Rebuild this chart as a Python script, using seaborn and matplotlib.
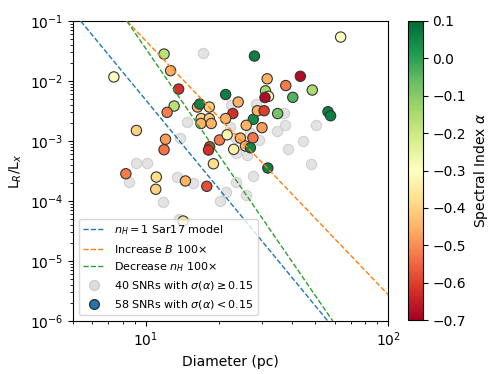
import numpy as np
import pandas as pd
import matplotlib
matplotlib.use('Agg')
import matplotlib.pyplot as plt
import seaborn as sns
from matplotlib.lines import Line2D
from matplotlib.colors import Normalize
from matplotlib.cm import ScalarMappable

# SNRs with well measured spectral index (sigma < 0.15)
diam_good = [11.87, 28.0, 63.5, 7.37, 12.63, 13.63, 21.3, 24.0, 13.06, 12.22,
             16.31, 18.24, 22.8, 27.7, 28.8, 16.89, 18.24, 16.85, 18.58, 21.3,
             9.13, 25.9, 12.04, 20.1, 21.6, 24.5, 27.6, 11.87, 18.3, 18.1,
             23.0, 25.7, 26.95, 18.97, 8.26, 11.03, 14.54, 10.97, 17.81, 14.23,
             31.6, 37.7, 43.3, 31.1, 32.0, 30.95, 40.3, 48.5, 30.7, 34.9,
             56.3, 57.7, 30.1, 31.8, 16.66]
ratio_good = [2.82e-2, 2.61e-2, 5.41e-2, 1.17e-2, 1.49e-2, 7.36e-3, 5.96e-3, 4.47e-3, 3.83e-3, 3.01e-3,
              3.69e-3, 3.69e-3, 2.87e-3, 2.30e-3, 3.20e-3, 2.37e-3, 2.37e-3, 1.96e-3, 1.96e-3, 2.37e-3,
              1.50e-3, 1.83e-3, 1.07e-3, 1.04e-3, 1.27e-3, 1.12e-3, 1.13e-3, 7.16e-4, 8.04e-4, 7.08e-4,
              7.27e-4, 8.25e-4, 7.73e-4, 4.18e-4, 2.85e-4, 2.51e-4, 2.16e-4, 1.57e-4, 1.76e-4, 4.64e-5,
              1.09e-2, 8.41e-3, 1.20e-2, 6.87e-3, 5.56e-3, 5.31e-3, 5.35e-3, 7.08e-3, 3.20e-3, 2.87e-3,
              3.08e-3, 2.64e-3, 1.67e-3, 3.55e-4, 4.14e-3]
alpha_good = [-0.17, 0.06, -0.30, -0.30, -0.45, -0.62, 0.06, -0.45, -0.17, -0.52,
              -0.45, -0.40, -0.62, 0.04, -0.45, -0.40, -0.42, -0.45, -0.45, -0.45,
              -0.40, -0.45, -0.48, -0.52, -0.32, -0.45, -0.53, -0.53, -0.62, -0.62,
              -0.34, -0.45, 0.05, -0.38, -0.52, -0.38, -0.45, -0.40, -0.58, -0.38,
              -0.45, -0.52, -0.68, -0.14, -0.32, -0.68, -0.04, -0.15, -0.60, -0.08,
              0.06, 0.06, -0.48, 0.06, 0.05]

# SNRs with poorly constrained spectral index
diam_poor = [17.22, 14.79, 13.83, 22.3, 28.3, 37.0, 37.3, 34.6, 44.5, 38.5,
             23.5, 26.2, 48.1, 9.09, 10.12, 8.50, 13.37, 15.68, 11.76, 21.4,
             20.1, 23.5, 25.8, 27.7, 13.70, 50.1, 22.4, 26.95, 29.2, 23.4]
ratio_poor = [2.96e-2, 2.07e-3, 1.14e-3, 1.73e-3, 4.22e-3, 2.90e-3, 1.85e-3, 1.49e-3, 1.01e-3, 7.36e-4,
              6.31e-4, 5.96e-4, 4.17e-4, 4.25e-4, 4.38e-4, 2.10e-4, 2.54e-4, 2.0e-4, 9.73e-5, 1.40e-4,
              1.0e-4, 2.07e-4, 1.24e-4, 2.61e-4, 4.95e-5, 1.85e-3, 3.98e-3, 1.34e-3, 1.04e-3, 1.12e-3]

# model tracks
sar17_d = [5.38, 56.2]
sar17_l = [1e-1, 1e-6]
incB_d = [8.34, 100.0]
incB_l = [1e-1, 2.71e-6]
decn_d = [8.34, 58.9]
decn_l = [1e-1, 1e-6]

cbar_ticks = [-0.7, -0.6, -0.5, -0.4, -0.3, -0.2, -0.1, 0.0, 0.1]

df_good = pd.DataFrame({'diam': diam_good, 'ratio': ratio_good, 'alpha': alpha_good})
df_poor = pd.DataFrame({'diam': diam_poor, 'ratio': ratio_poor})

cmap = sns.color_palette('RdYlGn', as_cmap=True)
norm = Normalize(vmin=-0.7, vmax=0.1)

fig = plt.figure(figsize=(4.98, 3.74), dpi=100)
ax = fig.add_axes([0.1466, 0.1417, 0.6335, 0.802])
cax = fig.add_axes([0.819, 0.144, 0.030, 0.800])

sns.scatterplot(data=df_poor, x='diam', y='ratio', color='#dcdcdc', edgecolor='#c8c8c8',
                alpha=0.8, s=55, linewidth=0.8, ax=ax, zorder=1, legend=False)
sns.scatterplot(data=df_good, x='diam', y='ratio', hue='alpha', palette=cmap, hue_norm=norm,
                s=55, edgecolor='#333333', linewidth=0.8, ax=ax, zorder=2, legend=False)

sns.lineplot(x=sar17_d, y=sar17_l, ax=ax, color='tab:blue', linestyle='--', linewidth=1, zorder=3)
sns.lineplot(x=incB_d, y=incB_l, ax=ax, color='tab:orange', linestyle='--', linewidth=1, zorder=3)
sns.lineplot(x=decn_d, y=decn_l, ax=ax, color='tab:green', linestyle='--', linewidth=1, zorder=3)

ax.set_xscale('log')
ax.set_yscale('log')
ax.set_xlim(5, 100)
ax.set_ylim(1e-6, 1e-1)
ax.set_xlabel('Diameter (pc)')
ax.set_ylabel(r'L$_R$/L$_x$')

handles = [
    Line2D([], [], color='tab:blue', linestyle='--', linewidth=1),
    Line2D([], [], color='tab:orange', linestyle='--', linewidth=1),
    Line2D([], [], color='tab:green', linestyle='--', linewidth=1),
    Line2D([], [], marker='o', linestyle='', markersize=7, markerfacecolor='#dedede',
           markeredgecolor='#cccccc'),
    Line2D([], [], marker='o', linestyle='', markersize=7, markerfacecolor='tab:blue',
           markeredgecolor='#333333'),
]
labels = [r'$n_H = 1$ Sar17 model',
          r'Increase $B$ 100$\times$',
          r'Decrease $n_H$ 100$\times$',
          r'40 SNRs with $\sigma(\alpha) \geq 0.15$',
          r'58 SNRs with $\sigma(\alpha) < 0.15$']
ax.legend(handles, labels, loc='lower left', fontsize=8)

cb = fig.colorbar(ScalarMappable(norm=norm, cmap=cmap), cax=cax, ticks=cbar_ticks)
cb.set_label(r'Spectral Index $\alpha$')

fig.savefig('out.png', dpi=100)
